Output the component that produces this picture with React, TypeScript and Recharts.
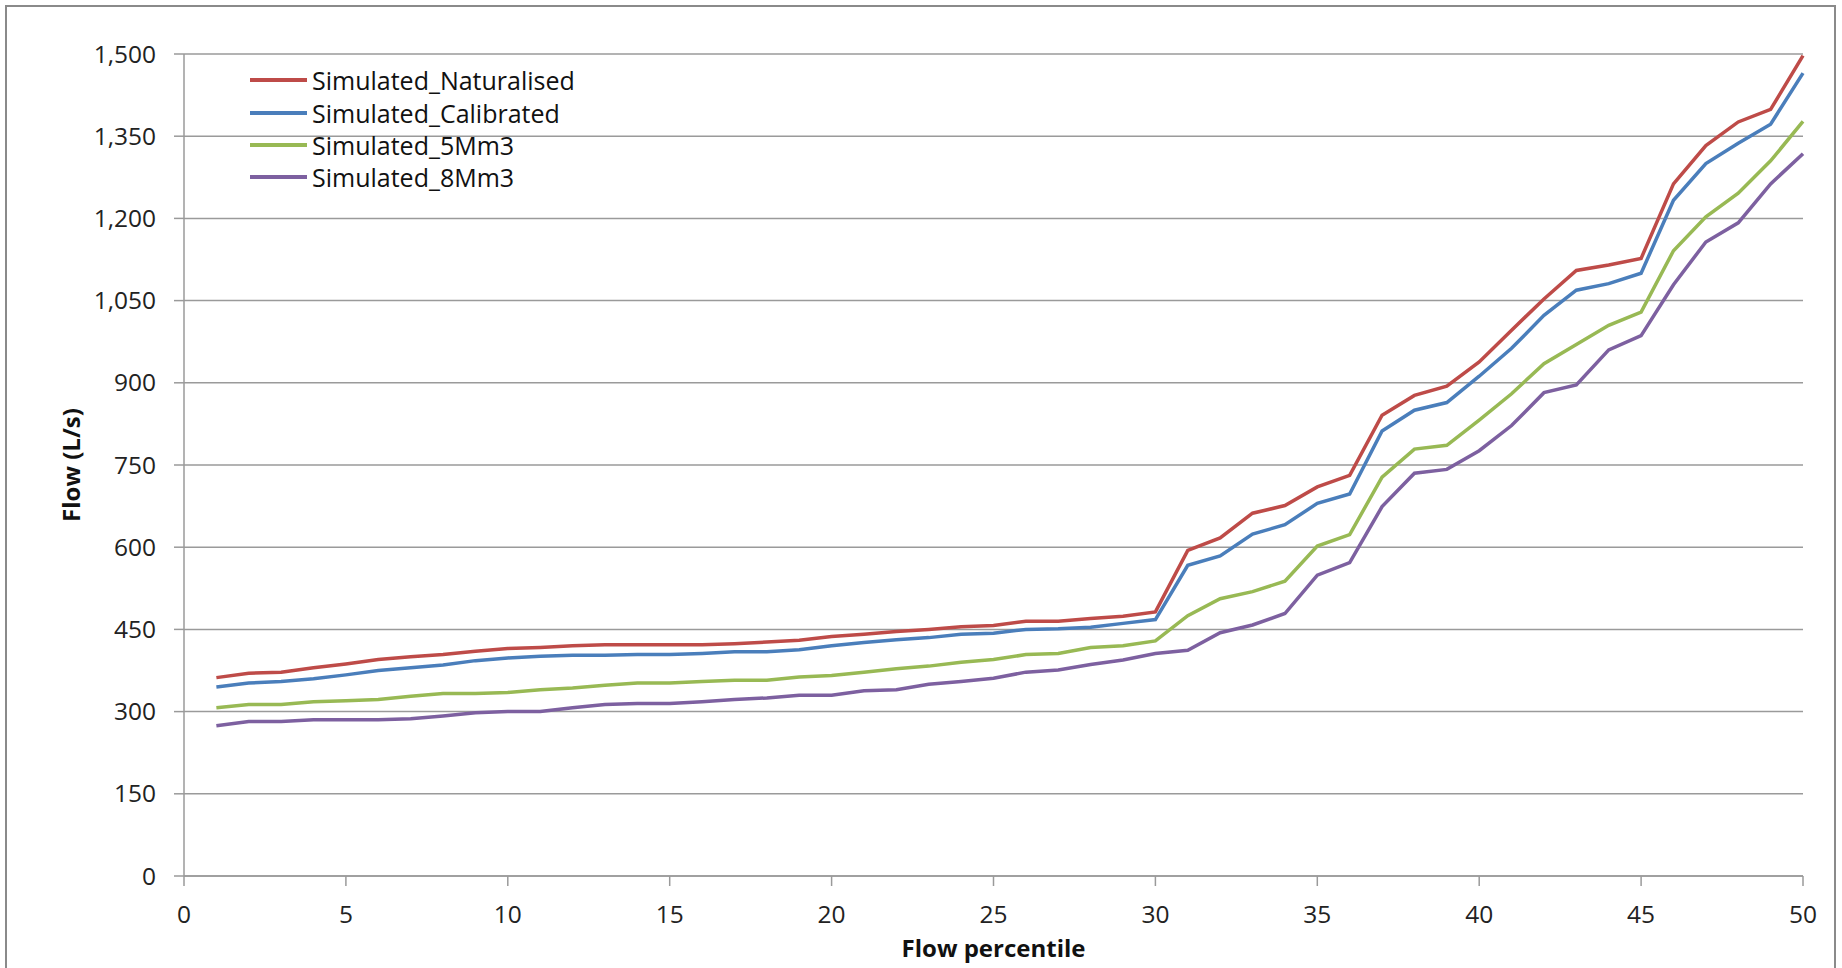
import { LineChart, Line, XAxis, YAxis, CartesianGrid } from 'recharts';

const percentiles = [
  1, 2, 3, 4, 5, 6, 7, 8, 9, 10, 11, 12, 13, 14, 15, 16, 17, 18, 19, 20, 21, 22, 23, 24, 25,
  26, 27, 28, 29, 30, 31, 32, 33, 34, 35, 36, 37, 38, 39, 40, 41, 42, 43, 44, 45, 46, 47, 48, 49, 50,
];

const naturalised = [
  362, 370, 372, 380, 387, 395, 400, 404, 410, 415, 417, 420, 422, 422, 422, 422, 424, 427, 430, 437,
  441, 446, 450, 455, 457, 465, 465, 470, 474, 482, 594, 617, 662, 676, 710, 731, 841, 877, 894, 938,
  996, 1053, 1105, 1115, 1127, 1263, 1333, 1376, 1399, 1497,
];

const calibrated = [
  345, 352, 355, 360, 367, 375, 380, 385, 393, 398, 401, 403, 403, 404, 404, 406, 409, 409, 413, 420,
  426, 431, 435, 441, 443, 450, 451, 454, 461, 468, 567, 584, 624, 641, 680, 697, 812, 850, 864, 912,
  963, 1023, 1069, 1081, 1100, 1233, 1300, 1337, 1372, 1465,
];

const mm5 = [
  307, 313, 313, 318, 320, 322, 328, 333, 333, 335, 340, 343, 348, 352, 352, 355, 357, 357, 363, 366,
  372, 378, 383, 390, 395, 404, 406, 417, 420, 429, 475, 506, 519, 538, 602, 623, 728, 779, 786, 832,
  880, 935, 970, 1005, 1029, 1141, 1203, 1246, 1305, 1377,
];

const mm8 = [
  274, 282, 282, 285, 285, 285, 287, 292, 298, 300, 300, 307, 313, 315, 315, 318, 322, 325, 330, 330,
  338, 340, 350, 355, 361, 372, 376, 386, 394, 406, 412, 444, 458, 479, 549, 572, 674, 735, 742, 776,
  822, 882, 896, 960, 986, 1079, 1157, 1192, 1263, 1318,
];

const xTicks = [0, 5, 10, 15, 20, 25, 30, 35, 40, 45, 50];
const yTicks = [0, 150, 300, 450, 600, 750, 900, 1050, 1200, 1350, 1500];

const seriesInfo = [
  { key: 'naturalised', name: 'Simulated_Naturalised', color: '#BE4B48' },
  { key: 'calibrated', name: 'Simulated_Calibrated', color: '#4A7EBB' },
  { key: 'mm5', name: 'Simulated_5Mm3', color: '#98B954' },
  { key: 'mm8', name: 'Simulated_8Mm3', color: '#7D60A0' },
];

const data = percentiles.map((p, i) => ({
  percentile: p,
  naturalised: naturalised[i],
  calibrated: calibrated[i],
  mm5: mm5[i],
  mm8: mm8[i],
}));

const FONT = '"Open Sans", sans-serif';
const GRID = '#9a9a9a';

// Excel style legend: short thick line then the label, one entry per row.
// Drawn outside the chart so it doesn't eat into the plot area.
function LegendBox() {
  return (
    <div
      style={{
        position: 'absolute',
        left: 250,
        top: 64,
        fontFamily: FONT,
        fontSize: 25,
        color: '#111',
      }}
    >
      {seriesInfo.map((s) => (
        <div key={s.key} style={{ display: 'flex', alignItems: 'center', height: 32.4 }}>
          <div style={{ width: 57, height: 4, background: s.color, marginRight: 5 }} />
          <span style={{ lineHeight: '32px', whiteSpace: 'nowrap' }}>{s.name}</span>
        </div>
      ))}
    </div>
  );
}

export default function App() {
  return (
    <div style={{ position: 'fixed', left: 0, top: 0, width: 1842, height: 968, background: '#fff' }}>
      <div
        style={{
          position: 'absolute',
          left: 5,
          top: 5,
          width: 1831,
          height: 980,
          border: '2px solid #8a8a8a',
          boxSizing: 'border-box',
        }}
      />
      <LineChart
        width={1842}
        height={968}
        data={data}
        margin={{ top: 54, right: 39, left: 0, bottom: 0 }}
        style={{ position: 'absolute', left: 0, top: 0 }}
      >
        <CartesianGrid vertical={false} stroke={GRID} strokeWidth={1.5} />
        <XAxis
          dataKey="percentile"
          type="number"
          domain={[0, 50]}
          ticks={xTicks}
          interval={0}
          height={92}
          tickSize={10}
          tickMargin={20}
          stroke={GRID}
          strokeWidth={1.5}
          tick={{ fontFamily: FONT, fontSize: 24.5, fill: '#222' }}
          label={{
            content: ({ viewBox }: any) => (
              <text
                x={viewBox.x + viewBox.width / 2}
                y={viewBox.y + 81}
                textAnchor="middle"
                fontFamily={FONT}
                fontSize={24}
                fontWeight="bold"
                fill="#111"
              >
                Flow percentile
              </text>
            ),
          }}
        />
        <YAxis
          type="number"
          domain={[0, 1500]}
          ticks={yTicks}
          interval={0}
          width={184}
          tickSize={10}
          tickMargin={18}
          stroke={GRID}
          strokeWidth={1.5}
          tickFormatter={(v: number) => v.toLocaleString('en-US')}
          tick={{ fontFamily: FONT, fontSize: 24.5, fill: '#222' }}
          label={{
            content: ({ viewBox }: any) => {
              const cx = 70;
              const cy = viewBox.y + viewBox.height / 2;
              return (
                <text
                  x={cx}
                  y={cy}
                  transform={`rotate(-90 ${cx} ${cy})`}
                  textAnchor="middle"
                  dominantBaseline="central"
                  fontFamily={FONT}
                  fontSize={24}
                  fontWeight="bold"
                  fill="#111"
                >
                  Flow (L/s)
                </text>
              );
            },
          }}
        />
        {seriesInfo.map((s) => (
          <Line
            key={s.key}
            type="linear"
            dataKey={s.key}
            name={s.name}
            stroke={s.color}
            strokeWidth={3.5}
            dot={false}
            activeDot={false}
            isAnimationActive={false}
          />
        ))}
      </LineChart>
      <LegendBox />
    </div>
  );
}
